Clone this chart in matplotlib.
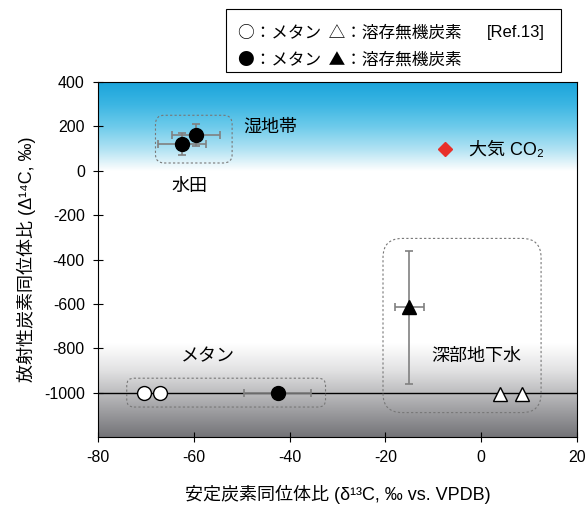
import numpy as np
import matplotlib.pyplot as plt
from matplotlib.patches import FancyBboxPatch, Rectangle

plt.rcParams['font.family'] = ['Liberation Sans', 'Noto Sans CJK JP', 'DejaVu Sans']
plt.rcParams['axes.unicode_minus'] = False

# --- data ---
wetland_x, wetland_y = [-59.5], [160]
wetland_xerr, wetland_yerr = [5], [50]
paddy_x, paddy_y = [-62.5], [120]
paddy_xerr, paddy_yerr = [5], [50]

methane_open_x = [-70.5, -67.0]
methane_open_y = [-1000, -1000]
methane_deep_x, methane_deep_y = [-42.5], [-1000]
methane_deep_xerr = [7]

dic_deep_x, dic_deep_y = [-15.0], [-615]
dic_deep_xerr = [3]
dic_deep_yerr = [[345], [255]]
dic_open_x = [4.0, 8.5]
dic_open_y = [-1005, -1005]

co2_x, co2_y = [-7.5], [100]

fig = plt.figure(figsize=(5.88, 5.13), dpi=100)
ax = fig.add_axes([98/588, 76/513, 479/588, 355/513])
ax.set_xlim(-80, 20)
ax.set_ylim(-1200, 400)

# background gradient (sky blue on top, grey at the bottom)
yy = np.linspace(400, -1200, 400)
stops_y = [400, 300, 200, 100, 20, 0, -780, -900, -1000, -1100, -1200]
stops_c = np.array([
    [0x1b, 0xa4, 0xdb], [0x3c, 0xb6, 0xe3], [0x6e, 0xcb, 0xeb],
    [0xb0, 0xe2, 0xf3], [0xf0, 0xf9, 0xfc], [0xff, 0xff, 0xff],
    [0xff, 0xff, 0xff], [0xe2, 0xe2, 0xe3], [0xbd, 0xbd, 0xbf],
    [0x98, 0x98, 0x9b], [0x74, 0x74, 0x78]]) / 255.0
rows = np.stack([np.interp(-yy, -np.array(stops_y), stops_c[:, k]) for k in range(3)], axis=1)
img = np.repeat(rows[:, None, :], 2, axis=1)
ax.imshow(img, extent=[-80, 20, -1200, 400], aspect='auto', zorder=0, interpolation='bilinear')

ax.axhline(-1000, color='black', lw=1, zorder=1)

# dashed rounded boxes
asp = (1600 / 355) / (100 / 479)
for (x0, y0, x1, y1, r) in [(-68, 35, -52, 250, 1.8), (-74, -1065, -32.5, -935, 1.5),
                             (-20.5, -1090, 12.5, -305, 4.0)]:
    ax.add_patch(FancyBboxPatch((x0, y0), x1 - x0, y1 - y0,
                                boxstyle=f"round,pad=0,rounding_size={r}",
                                mutation_aspect=asp, fill=False, ec='#777777',
                                ls=(0, (2, 2)), lw=0.8, zorder=2))

eb = dict(ecolor='#808080', elinewidth=1.2, capsize=3, capthick=1.2, zorder=3)
ax.errorbar(paddy_x, paddy_y, xerr=paddy_xerr, yerr=paddy_yerr, fmt='o', color='black', ms=10, **eb)
ax.errorbar(wetland_x, wetland_y, xerr=wetland_xerr, yerr=wetland_yerr, fmt='o', color='black', ms=10, **eb)
ax.errorbar(methane_deep_x, methane_deep_y, xerr=methane_deep_xerr, fmt='o', color='black', ms=10, **eb)
ax.errorbar(dic_deep_x, dic_deep_y, xerr=dic_deep_xerr, yerr=dic_deep_yerr, fmt='^', color='black', ms=10, **eb)
ax.plot(methane_open_x, methane_open_y, 'o', mfc='white', mec='black', mew=1, ms=10, zorder=4)
ax.plot(dic_open_x, dic_open_y, '^', mfc='white', mec='black', mew=1, ms=10, zorder=4)
ax.plot(co2_x, co2_y, 'D', color='#e8302a', ms=7, zorder=4)

tfs = 13
ax.text(-44, 195, '湿地帯', fontsize=tfs, ha='center', va='center')
ax.text(-61, -70, '水田', fontsize=tfs, ha='center', va='center')
ax.text(-2.5, 90, '大気 CO₂', fontsize=tfs, ha='left', va='center')
ax.text(-57, -840, 'メタン', fontsize=tfs, ha='center', va='center')
ax.text(-1, -835, '深部地下水', fontsize=tfs, ha='center', va='center')

ax.set_xticks([-80, -60, -40, -20, 0, 20])
ax.set_yticks([-1000, -800, -600, -400, -200, 0, 200, 400])
ax.tick_params(direction='inout', length=7, labelsize=11.5, pad=6)
ax.set_xlabel('安定炭素同位体比 (δ¹³C, ‰ vs. VPDB)', fontsize=13, labelpad=14)
ax.set_ylabel('放射性炭素同位体比 (Δ¹⁴C, ‰)', fontsize=13, labelpad=6)

# legend box at the top
fig.patches.append(Rectangle((226/588, 1 - 72/513), 335/588, 63/513, transform=fig.transFigure,
                             fill=False, ec='black', lw=0.8))
lfs = 12
lfam = ['Noto Sans CJK JP', 'DejaVu Sans']
fig.text(238/588, 1 - 33/513, '○：メタン  △：溶存無機炭素', fontsize=lfs, va='center', family=lfam)
fig.text(487/588, 1 - 33/513, '[Ref.13]', fontsize=lfs, va='center')
fig.text(238/588, 1 - 60/513, '●：メタン  ▲：溶存無機炭素', fontsize=lfs, va='center', family=lfam)

fig.savefig('out.png', dpi=100)
